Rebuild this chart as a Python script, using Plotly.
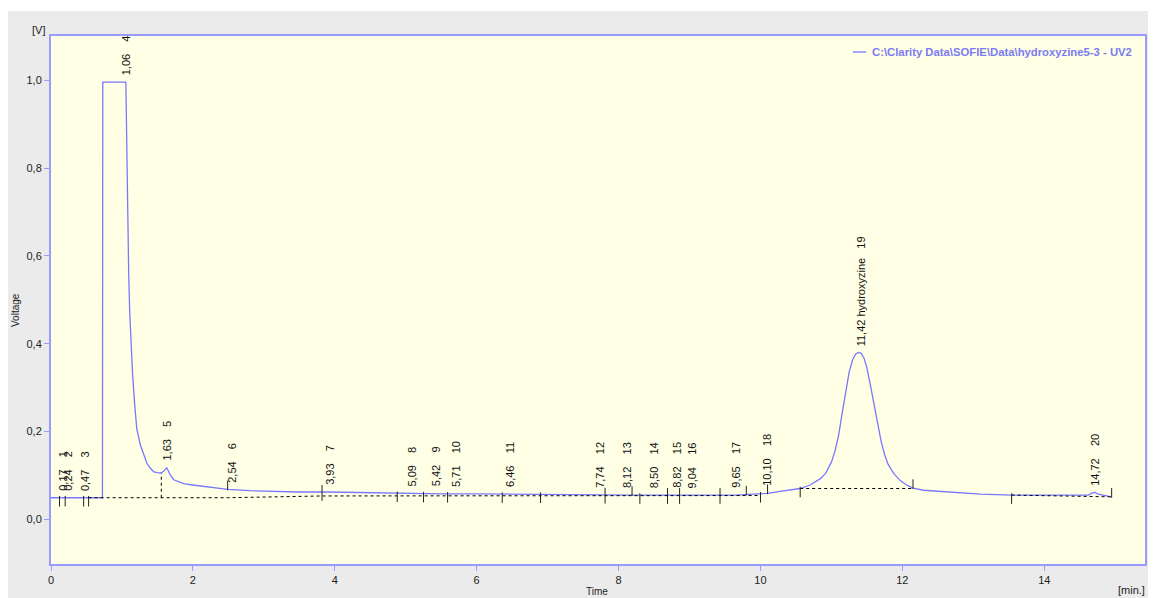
import numpy as np
import plotly.graph_objects as go

# ---------------- data ----------------
time_min = [0.00, 0.10, 0.20, 0.30, 0.40, 0.50, 0.60, 0.70, 0.725, 0.730, 0.80, 0.90, 1.00, 1.055,
            1.062, 1.07, 1.08, 1.095, 1.11, 1.13, 1.15, 1.18, 1.21, 1.26, 1.30, 1.35, 1.40, 1.45,
            1.50, 1.54, 1.58, 1.61, 1.63, 1.655, 1.68, 1.73, 1.80, 1.87, 2.00, 2.20, 2.49, 2.80,
            3.13, 3.50, 3.93, 4.50, 5.00, 5.50, 6.00, 6.50, 7.00, 7.70, 8.20, 8.70, 9.20, 9.65,
            9.90, 10.10, 10.30, 10.56, 10.70, 10.85, 10.92, 11.00, 11.05, 11.10, 11.15, 11.20,
            11.25, 11.30, 11.34, 11.38, 11.42, 11.46, 11.50, 11.55, 11.60, 11.65, 11.70, 11.75,
            11.80, 11.88, 11.97, 12.07, 12.15, 12.30, 12.63, 13.10, 13.54, 14.00, 14.50, 14.62,
            14.68, 14.72, 14.76, 14.85, 14.95]
voltage = [0.049, 0.049, 0.049, 0.049, 0.049, 0.049, 0.049, 0.049, 0.049, 0.996, 0.996, 0.996,
           0.996, 0.996, 0.92, 0.80, 0.68, 0.56, 0.47, 0.39, 0.33, 0.26, 0.205, 0.169, 0.150,
           0.128, 0.116, 0.108, 0.106, 0.105, 0.108, 0.114, 0.117, 0.110, 0.101, 0.090, 0.085,
           0.081, 0.078, 0.074, 0.068, 0.065, 0.063, 0.062, 0.062, 0.060, 0.059, 0.058, 0.058,
           0.057, 0.057, 0.056, 0.055, 0.055, 0.055, 0.055, 0.057, 0.059, 0.064, 0.070, 0.078,
           0.093, 0.105, 0.130, 0.155, 0.190, 0.240, 0.290, 0.335, 0.364, 0.376, 0.380, 0.378,
           0.367, 0.345, 0.305, 0.260, 0.218, 0.178, 0.147, 0.125, 0.104, 0.088, 0.077, 0.071,
           0.066, 0.062, 0.057, 0.055, 0.055, 0.054, 0.055, 0.060, 0.061, 0.057, 0.054, 0.051]

# peaks: retention time, peak number, peak name
peak_rt = [0.17, 0.24, 0.47, 1.06, 1.63, 2.54, 3.93, 5.09, 5.42, 5.71, 6.46, 7.74, 8.12, 8.50,
           8.82, 9.04, 9.65, 10.10, 11.42, 14.72]
peak_no = list(range(1, 21))
peak_name = [""] * 18 + ["hydroxyzine", ""]

# integration baselines (segments separated by None)
base_t = [0.53, 2.49, 3.82, 10.00, None, 1.555, 1.555, None, 10.56, 12.15, None, 13.54, 14.95]
base_v = [0.049, 0.049, 0.053, 0.054, None, 0.049, 0.105, None, 0.070, 0.070, None, 0.055, 0.051]

# peak boundary marks: time and direction (d = down, u = up, b = both)
mark_t = [0.12, 0.20, 0.46, 0.53, 2.49, 3.82, 4.88, 5.25, 5.59, 6.36, 6.90, 7.81, 8.19, 8.30,
          8.69, 8.86, 9.43, 9.80, 10.00, 10.10, 10.56, 12.15, 13.54, 14.95]
mark_dir = ["d", "d", "d", "d", "u", "b", "d", "d", "d", "d", "d", "b", "u", "d",
            "b", "b", "b", "u", "d", "u", "d", "u", "d", "u"]

trace_name = "C:\\Clarity Data\\SOFIE\\Data\\hydroxyzine5-3 - UV2"

# ---------------- figure ----------------
TRACE_COL = "#7878FF"
BORDER_COL = "#9B9BFF"
FONT = "Liberation Sans"

fig = go.Figure()
fig.add_trace(go.Scatter(x=time_min, y=voltage, mode="lines", name=trace_name,
                         line=dict(color=TRACE_COL, width=1.3), showlegend=False))

fig.add_trace(go.Scatter(x=base_t, y=base_v, mode="lines", showlegend=False,
                         line=dict(color="black", width=1, dash="dot"), connectgaps=False))

# boundary marks
mx, my = [], []
for t, d in zip(mark_t, mark_dir):
    yb = float(np.interp(t, time_min, voltage))
    if d == "d":
        y0, y1 = yb + 0.004, yb - 0.020
    elif d == "u":
        y0, y1 = yb - 0.002, yb + 0.020
    else:
        y0, y1 = yb + 0.016, yb - 0.020
    mx += [t, t, None]
    my += [y0, y1, None]
fig.add_trace(go.Scatter(x=mx, y=my, mode="lines", showlegend=False,
                         line=dict(color="#222222", width=1)))

NB = "\u00a0"
annotations = []
for rt, no, nm in zip(peak_rt, peak_no, peak_name):
    rt_s = f"{rt:.2f}".replace(".", ",")
    if nm:
        txt = f"{rt_s}{NB}{nm}{NB*3}{no}"
    else:
        txt = f"{rt_s}{NB*4}{no}"
    yv = max(float(np.interp(rt + dt, time_min, voltage)) for dt in (-0.01, 0.0, 0.01))
    annotations.append(dict(x=rt, y=yv, xref="x", yref="y", text=txt, textangle=-90,
                            showarrow=False, xanchor="center", yanchor="bottom", yshift=5,
                            font=dict(family=FONT, size=11, color="#111111")))

# figure sits at (8, 8) in the page (body margin)
OX, OY = 8, 8
W, H = 1148, 590
ML, MR, MT, MB = 43, 11, 28, 34
PW, PH = W - ML - MR, H - MT - MB


def px(xp):  # page pixel -> paper
    return (xp - OX - ML) / PW


def py(yp):
    return (H - MB - (yp - OY)) / PH


annotations += [
    dict(x=px(38), y=py(30), xref="paper", yref="paper", text="[V]", showarrow=False,
         xanchor="center", yanchor="middle", font=dict(family=FONT, size=11, color="#222222")),
    dict(x=px(1147), y=py(590), xref="paper", yref="paper", text="[min.]", showarrow=False,
         xanchor="right", yanchor="middle", font=dict(family=FONT, size=11, color="#222222")),
    dict(x=px(597), y=py(591), xref="paper", yref="paper", text="Time", showarrow=False,
         xanchor="center", yanchor="middle", font=dict(family=FONT, size=10, color="#222222")),
    dict(x=px(15), y=py(310), xref="paper", yref="paper", text="Voltage", showarrow=False,
         textangle=-90, xanchor="center", yanchor="middle",
         font=dict(family=FONT, size=10, color="#222222")),
    dict(x=px(1134), y=py(52), xref="paper", yref="paper", text="<b>" + trace_name + "</b>",
         showarrow=False, xanchor="right", yanchor="middle",
         font=dict(family=FONT, size=11.3, color="#7B7BF2")),
]

shapes = [
    dict(type="rect", xref="paper", yref="paper", x0=px(0), x1=px(1160), y0=py(11), y1=py(0),
         fillcolor="white", line=dict(width=0), layer="below"),
    # legend sample line
    dict(type="line", xref="paper", yref="paper", x0=px(853), x1=px(866), y0=py(52), y1=py(52),
         line=dict(color=TRACE_COL, width=1.3)),
]

fig.update_layout(
    width=W, height=H,
    margin=dict(l=ML, r=MR, t=MT, b=MB, pad=0),
    paper_bgcolor="#EBEBEB",
    plot_bgcolor="#FFFFE6",
    separators=",.",
    annotations=annotations,
    shapes=shapes,
    font=dict(family=FONT, size=11, color="#222222"),
)
fig.update_xaxes(range=[0, 15.42], showgrid=False, zeroline=False, showline=True, mirror=True,
                 linecolor=BORDER_COL, linewidth=2, ticks="outside", ticklen=5,
                 tickcolor=BORDER_COL, tick0=0, dtick=2, tickformat="d", automargin=False,
                 tickfont=dict(family=FONT, size=11, color="#222222"))
fig.update_yaxes(range=[-0.102, 1.101], showgrid=False, zeroline=False, showline=True, mirror=True,
                 linecolor=BORDER_COL, linewidth=2, ticks="outside", ticklen=5,
                 tickcolor=BORDER_COL, tick0=0, dtick=0.2, tickformat=".1f", automargin=False,
                 tickfont=dict(family=FONT, size=11, color="#222222"))

fig.write_html("out.html")
